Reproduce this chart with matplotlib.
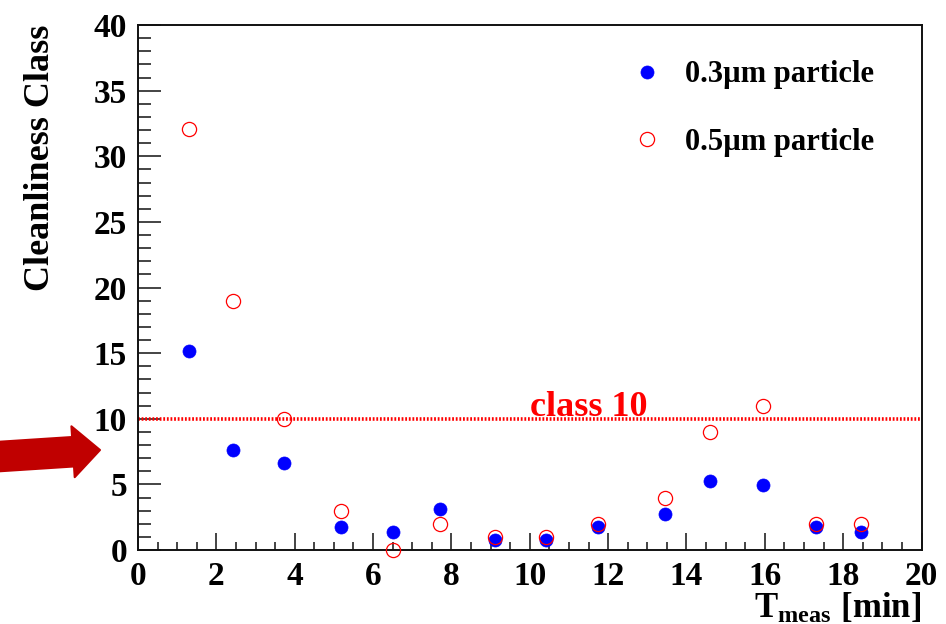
import numpy as np
import matplotlib
matplotlib.use("Agg")
import matplotlib.pyplot as plt
from matplotlib.ticker import MultipleLocator
from matplotlib.patches import FancyArrow
from matplotlib.transforms import IdentityTransform

# ---- data ----
t_meas = [1.30, 2.42, 3.72, 5.19, 6.50, 7.71, 9.12, 10.41, 11.74, 13.46, 14.61, 15.95, 17.31, 18.46]
class_03um = [15.2, 7.6, 6.65, 1.73, 1.40, 3.1, 0.76, 0.8, 1.78, 2.77, 5.26, 4.93, 1.78, 1.4]
class_05um = [32.1, 19.0, 10.0, 3.0, 0.0, 2.0, 1.0, 1.0, 2.0, 4.0, 9.0, 11.0, 2.0, 2.0]
series_labels = ["0.3\u00b5m particle", "0.5\u00b5m particle"]
class_level = 10
class_text = "class 10"
x_ticks = list(range(0, 21, 2))
y_ticks = list(range(0, 41, 5))

plt.rcParams['font.family'] = ['Liberation Serif', 'DejaVu Serif']
plt.rcParams['font.weight'] = 'bold'
plt.rcParams['mathtext.fontset'] = 'custom'
plt.rcParams['mathtext.rm'] = 'Liberation Serif:bold'
plt.rcParams['mathtext.it'] = 'Liberation Serif:bold'
plt.rcParams['mathtext.bf'] = 'Liberation Serif:bold'

fig = plt.figure(figsize=(9.46, 6.24), dpi=100)
ax = fig.add_axes([138/946, 1-550/624, (921.5-138)/946, (550-25)/624])

ax.plot(t_meas, class_03um, linestyle='none', marker='o', ms=9.4, mfc='#0000ff',
        mec='#0000ff', mew=0.5, label=series_labels[0], clip_on=False, zorder=3)
ax.plot(t_meas, class_05um, linestyle='none', marker='o', ms=10.2, mfc='none',
        mec='#ff0000', mew=0.9, label=series_labels[1], clip_on=False, zorder=4)

ax.axhline(class_level, color='#ff0000', lw=2.6, linestyle=(0, (0.5, 0.5)), zorder=2)
ax.text(10.0, class_level + 0.2, class_text, color='#ff0000', fontsize=26,
        fontweight='bold', ha='left', va='baseline')

ax.set_xlim(0, 20)
ax.set_ylim(0, 40)
ax.set_xticks(x_ticks)
ax.set_yticks(y_ticks)
ax.xaxis.set_minor_locator(MultipleLocator(0.5))
ax.yaxis.set_minor_locator(MultipleLocator(1))
ax.tick_params(which='both', direction='in', top=False, right=False,
               color='#111111', width=1.1, labelsize=24)
ax.tick_params(axis='x', which='major', length=12.2, pad=8)
ax.tick_params(axis='x', which='minor', length=5.8)
ax.tick_params(axis='y', which='major', length=16.6, pad=8)
ax.tick_params(axis='y', which='minor', length=9.4)
for lab in ax.get_xticklabels() + ax.get_yticklabels():
    lab.set_fontweight('bold')
for s in ax.spines.values():
    s.set_linewidth(1.4)
    s.set_color('#111111')

ax.set_ylabel("Cleanliness Class", fontsize=26, fontweight='bold', loc='top')
ax.yaxis.set_label_coords(-0.103, 1.0)
ax.set_xlabel(r"$\mathrm{T}_{\mathrm{meas}}\ \mathrm{[min]}$", fontsize=25, loc='right')
ax.xaxis.set_label_coords(1.0, -0.079)

leg = ax.legend(loc='upper left', bbox_to_anchor=(0.615, 0.956), frameon=False,
                fontsize=22, handlelength=1.0, handletextpad=0.74,
                labelspacing=1.25, borderaxespad=0)

# red annotation arrow (figure pixels)
H = 624
arrow = FancyArrow(-5, H-456.8, 105, 6.8, width=29.5, head_width=51, head_length=27,
                   length_includes_head=True, color='#c00000', lw=1.5,
                   joinstyle='round', transform=IdentityTransform())
fig.add_artist(arrow)

fig.savefig("out.png", dpi=100)
